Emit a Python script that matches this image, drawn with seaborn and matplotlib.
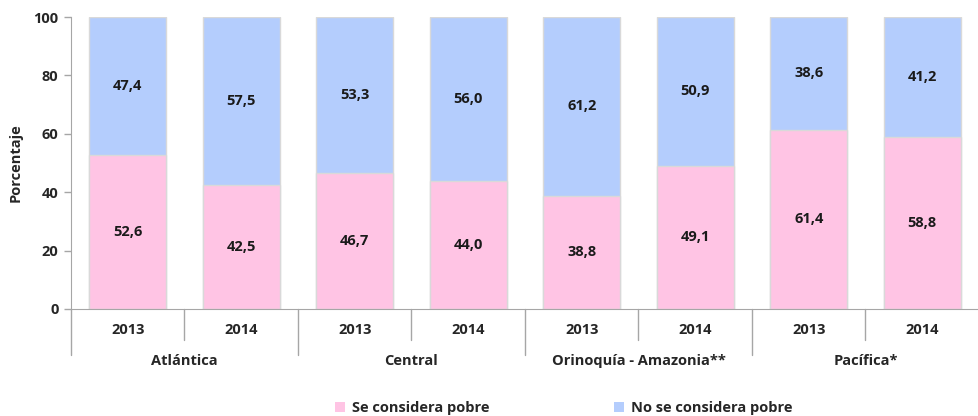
import matplotlib
matplotlib.use("Agg")
import matplotlib.pyplot as plt
from matplotlib.patches import Patch
import seaborn as sns
import pandas as pd

# Datos
regiones = ["Atlántica", "Central", "Orinoquía - Amazonia**", "Pacífica*"]
anios = ["2013", "2014"]
se_considera_pobre = [52.6, 42.5, 46.7, 44.0, 38.8, 49.1, 61.4, 58.8]
no_se_considera_pobre = [47.4, 57.5, 53.3, 56.0, 61.2, 50.9, 38.6, 41.2]

color_pobre = "#FFC4E4"
color_no_pobre = "#B4CDFD"
color_borde = "#D9D9D9"
color_eje = "#A6A6A6"

etiquetas = [f"{r} {a}" for r in regiones for a in anios]
df = pd.DataFrame({
    "grupo": etiquetas,
    "pobre": se_considera_pobre,
    "no_pobre": no_se_considera_pobre,
})
df["total"] = df["pobre"] + df["no_pobre"]

sns.set_style("white")
plt.rcParams["font.family"] = ["Open Sans", "DejaVu Sans"]
plt.rcParams["font.weight"] = "bold"
fs = 10.5

fig = plt.figure(figsize=(9.79, 4.16), dpi=100)
ax = fig.add_axes([71 / 979, 1 - 309 / 416, 1 - 71 / 979, (309 - 17) / 416])

# Barra total (azul) y luego la parte "pobre" (rosa) encima
sns.barplot(data=df, x="grupo", y="total", order=etiquetas, color=color_no_pobre,
            width=0.68, edgecolor=color_borde, linewidth=1, saturation=1, ax=ax)
sns.barplot(data=df, x="grupo", y="pobre", order=etiquetas, color=color_pobre,
            width=0.68, edgecolor=color_borde, linewidth=1, saturation=1, ax=ax)

# Valores dentro de cada segmento
for i, (p, n) in enumerate(zip(se_considera_pobre, no_se_considera_pobre)):
    ax.text(i, p / 2, f"{p:.1f}".replace(".", ","), ha="center", va="center",
            fontsize=fs, fontweight="bold", color="#1a1a1a")
    ax.text(i, p + n / 2, f"{n:.1f}".replace(".", ","), ha="center", va="center",
            fontsize=fs, fontweight="bold", color="#1a1a1a")

ax.set_ylim(0, 100)
ax.set_xlim(-0.5, len(etiquetas) - 0.5)
ax.set_yticks(range(0, 101, 20))
ax.set_ylabel("Porcentaje", fontsize=fs, fontweight="bold", labelpad=8)
ax.set_xlabel("")
ax.set_xticks(range(len(etiquetas)))
ax.set_xticklabels(anios * len(regiones), fontsize=fs, fontweight="bold")
ax.tick_params(axis="x", length=0, pad=10)
ax.tick_params(axis="y", left=True, length=5, width=1, color=color_eje,
               labelsize=fs, pad=4)
for lab in ax.get_yticklabels():
    lab.set_fontweight("bold")

sns.despine(ax=ax, top=True, right=True)
ax.spines["left"].set_color(color_eje)
ax.spines["bottom"].set_color(color_eje)

# Separadores de años y de regiones bajo el eje
trans = ax.get_xaxis_transform()
alto_ax = (309 - 17)
for k in range(len(regiones)):
    xs = 2 * k + 0.5
    ax.plot([xs, xs], [0, -31 / alto_ax], transform=trans, color=color_eje,
            lw=1, clip_on=False)
    xg = 2 * k - 0.5
    ax.plot([xg, xg], [0, -46 / alto_ax], transform=trans, color=color_eje,
            lw=1, clip_on=False)
    ax.text(2 * k + 0.5, -56 / alto_ax, regiones[k], transform=trans,
            ha="center", va="baseline", fontsize=fs, fontweight="bold")

handles = [Patch(facecolor=color_pobre, edgecolor="none", label="Se considera pobre"),
           Patch(facecolor=color_no_pobre, edgecolor="none", label="No se considera pobre")]
fig.legend(handles=handles, loc="center", bbox_to_anchor=(0.576, 1 - 408 / 416),
           ncol=2, frameon=False, handlelength=0.7, handleheight=0.7,
           handletextpad=0.5, columnspacing=8.5, prop={"weight": "bold", "size": fs})

fig.savefig("out.png", dpi=100)
